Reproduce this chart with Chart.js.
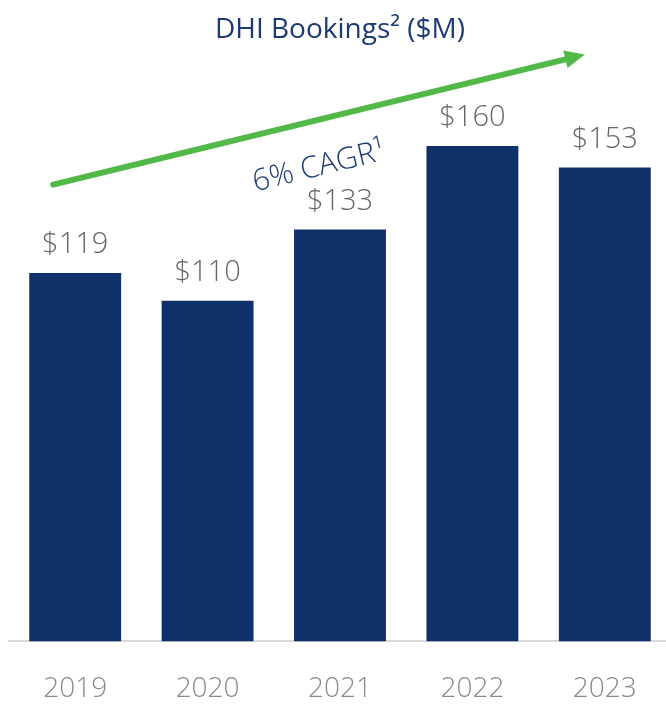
<!DOCTYPE html>
<html>
<head>
<meta charset="utf-8">
<script src="https://cdn.jsdelivr.net/npm/chart.js@4.4.0/dist/chart.umd.min.js"></script>
<style>
  html, body { margin: 0; padding: 0; background: #fff; overflow: hidden; }
  canvas { display: block; }
</style>
</head>
<body>
<canvas id="bookings-chart" width="680" height="737"></canvas>
<script>
///// DHI Bookings /////
const years = ['2019', '2020', '2021', '2022', '2023'];
const bookings = [119, 110, 133, 160, 153];
const titleText = 'DHI Bookings\u00b2 ($M)';
const cagrText = '6% CAGR\u00b9';

const NAVY = '#10306a';
const FONT = '"Open Sans", "Noto Sans", sans-serif';

// value labels + title + growth arrow
const extras = {
  id: 'extras',
  afterDatasetsDraw(chart) {
    const ctx = chart.ctx;
    const meta = chart.getDatasetMeta(0);
    const xs = chart.scales.x, ys = chart.scales.y;

    ctx.save();
    ctx.font = '300 29px ' + FONT;
    ctx.fillStyle = '#666666';
    ctx.textAlign = 'center';
    ctx.textBaseline = 'alphabetic';
    meta.data.forEach((bar, i) => {
      ctx.fillText('$' + bookings[i], bar.x, bar.y - 20);
    });

    ctx.fillStyle = '#1c3b72';
    ctx.font = '28px ' + FONT;
    ctx.textBaseline = 'middle';
    ctx.fillText(titleText, 340, 30);

    // arrow
    const x1 = xs.getPixelForValue(0) - 22, y1 = ys.getPixelForValue(147.5);
    const x2 = xs.getPixelForValue(4) - 20, y2 = ys.getPixelForValue(189.5);
    const ang = Math.atan2(y2 - y1, x2 - x1);
    const head = 20;
    ctx.strokeStyle = '#52b848';
    ctx.fillStyle = '#52b848';
    ctx.lineWidth = 6;
    ctx.lineCap = 'round';
    ctx.beginPath();
    ctx.moveTo(x1, y1);
    ctx.lineTo(x2 - head * Math.cos(ang), y2 - head * Math.sin(ang));
    ctx.stroke();
    ctx.beginPath();
    ctx.moveTo(x2, y2);
    ctx.lineTo(x2 - head * Math.cos(ang) + 9 * Math.sin(ang), y2 - head * Math.sin(ang) - 9 * Math.cos(ang));
    ctx.lineTo(x2 - head * Math.cos(ang) - 9 * Math.sin(ang), y2 - head * Math.sin(ang) + 9 * Math.cos(ang));
    ctx.closePath();
    ctx.fill();

    // CAGR text along the arrow
    ctx.translate(319, 167);
    ctx.rotate(ang);
    ctx.fillStyle = '#1c3b72';
    ctx.font = '300 30px ' + FONT;
    ctx.textBaseline = 'middle';
    ctx.fillText(cagrText, 0, 0);
    ctx.restore();
  }
};

const config = {
  type: 'bar',
  data: {
    labels: years,
    datasets: [{
      data: bookings,
      backgroundColor: NAVY,
      borderWidth: 0,
      barPercentage: 0.694,
      categoryPercentage: 1.0
    }]
  },
  options: {
    responsive: false,
    animation: false,
    layout: { padding: { left: 9, right: 9, top: 84, bottom: 0 } },
    plugins: {
      legend: { display: false },
      tooltip: { enabled: false }
    },
    scales: {
      x: {
        grid: { display: false, drawTicks: false },
        border: { display: true, color: '#d9d9d9', width: 2 },
        ticks: {
          color: '#8a8a8a',
          padding: 31,
          font: { family: FONT, size: 28, weight: '300' }
        }
      },
      y: {
        display: false,
        min: 0,
        max: 180
      }
    }
  },
  plugins: [extras]
};

let bookingsChart = new Chart(document.getElementById('bookings-chart'), config);
</script>
</body>
</html>
